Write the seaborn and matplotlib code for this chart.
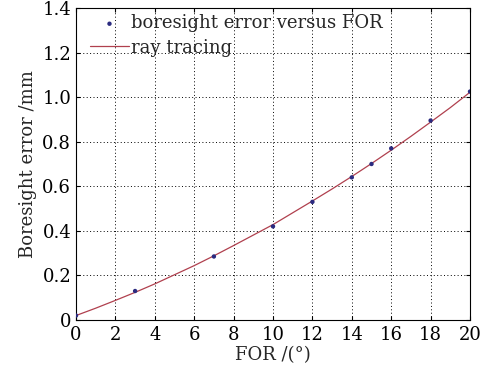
import matplotlib
matplotlib.use("Agg")
import matplotlib.pyplot as plt
import seaborn as sns
import pandas as pd

# measured points
for_pts = [0, 3, 7, 10, 12, 14, 15, 16, 18, 20]
err_pts = [0.02, 0.13, 0.285, 0.42, 0.53, 0.64, 0.70, 0.77, 0.895, 1.025]

# ray tracing curve
for_line = [0, 1, 2, 3, 4, 5, 6, 7, 8, 9, 10, 11, 12, 13, 14, 15, 16, 17, 18, 19, 20]
err_line = [0.020, 0.053, 0.088, 0.124, 0.162, 0.203, 0.244, 0.288, 0.334, 0.381,
            0.428, 0.481, 0.534, 0.588, 0.644, 0.702, 0.762, 0.824, 0.888, 0.953, 1.022]

x_ticks = [0, 2, 4, 6, 8, 10, 12, 14, 16, 18, 20]
y_ticks = [0, 0.2, 0.4, 0.6, 0.8, 1.0, 1.2, 1.4]
y_tick_labels = ["0", "0.2", "0.4", "0.6", "0.8", "1.0", "1.2", "1.4"]

sns.set_theme(style="ticks")
plt.rcParams['font.family'] = ['DejaVu Serif']
plt.rcParams['mathtext.fontset'] = 'dejavuserif'

fig = plt.figure(figsize=(4.98, 3.73), dpi=100)
ax = fig.add_axes([0.1526, 0.1421, 0.7912, 0.8365])

df_pts = pd.DataFrame({"FOR": for_pts, "err": err_pts})
df_line = pd.DataFrame({"FOR": for_line, "err": err_line})

sns.scatterplot(data=df_pts, x="FOR", y="err", ax=ax, marker="o", s=10,
                color="#2b2b80", edgecolor="none", label="boresight error versus FOR", zorder=3)
sns.lineplot(data=df_line, x="FOR", y="err", ax=ax, color="#b0404e", lw=0.9,
             label="ray tracing", zorder=2)

ax.set_xlim(0, 20)
ax.set_ylim(0, 1.4)
ax.set_xticks(x_ticks)
ax.set_yticks(y_ticks)
ax.set_yticklabels(y_tick_labels)
ax.tick_params(direction="in", length=3, width=0.8, labelsize=13, top=True, right=True, colors="black")
ax.tick_params(axis="x", pad=4)
ax.grid(True, linestyle=(0, (1, 2.5)), color="black", linewidth=0.7)
for s in ax.spines.values():
    s.set_color("black")
    s.set_linewidth(0.8)

ax.set_xlabel("FOR /(°)", fontsize=13, labelpad=2)
ax.set_ylabel("Boresight error /mm", fontsize=13, labelpad=4)

leg = ax.legend(loc="upper left", frameon=False, fontsize=13, handlelength=2.2,
                borderaxespad=0.0, handletextpad=0.1, labelspacing=0.35,
                borderpad=0.1, markerscale=1.0)
leg.set_bbox_to_anchor((0.03, 0.985))

fig.savefig("out.png", dpi=100)
